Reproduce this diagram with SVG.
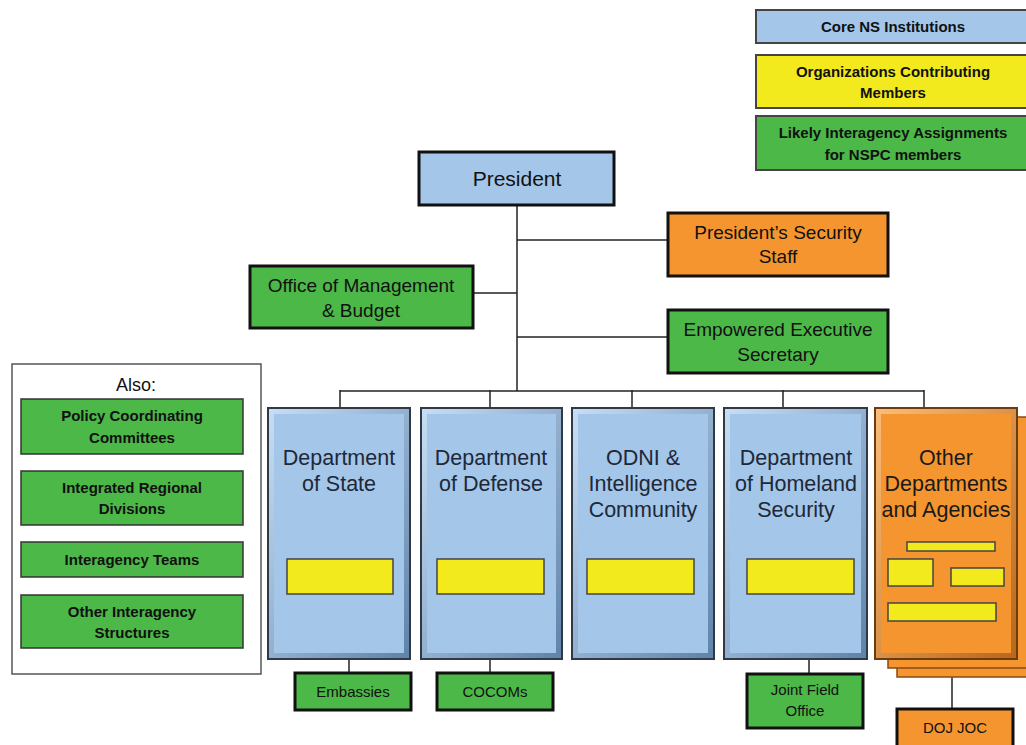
<svg xmlns="http://www.w3.org/2000/svg" width="1026" height="745" viewBox="0 0 1026 745">
<style>
text{font-family:"Liberation Sans",Arial,sans-serif;text-anchor:middle;fill:#111}
.b{font-weight:bold;font-size:15px}
.m{font-size:19px}
.d{font-size:21.5px;fill:#1e2838}
.s{font-size:15px}
.thick{stroke:#111;stroke-width:3}
.leg{stroke:#444;stroke-width:2}
.blue{fill:#a3c6e9}
.green{fill:#4cb848}
.orange{fill:#f4952f}
.yel{fill:#f2ea1c;stroke:#444;stroke-width:1.5}
.conn line{stroke:#222;stroke-width:1.5}
</style>
<defs>
<linearGradient id="bevB" x1="0" y1="0" x2="1" y2="1"><stop offset="0" stop-color="#c9def3"/><stop offset="1" stop-color="#5f82aa"/></linearGradient>
<linearGradient id="bevO" x1="0" y1="0" x2="1" y2="1"><stop offset="0" stop-color="#f9be7a"/><stop offset="1" stop-color="#b8661a"/></linearGradient>
</defs>

<g id="legend">
<g id="legend-core"><rect x="756" y="10" width="280" height="33" class="blue leg"/><text class="b" x="893" y="32">Core NS Institutions</text></g>
<g id="legend-org"><rect x="756" y="55" width="280" height="53" fill="#f2ea1c" class="leg"/><text class="b" x="893" y="77">Organizations Contributing</text><text class="b" x="893" y="98">Members</text></g>
<g id="legend-likely"><rect x="756" y="116" width="280" height="54" class="green leg"/><text class="b" x="893" y="138">Likely Interagency Assignments</text><text class="b" x="893" y="160">for NSPC members</text></g>
</g>

<g class="conn" id="connectors">
<line x1="517" y1="205" x2="517" y2="391"/>
<line x1="517" y1="240" x2="668" y2="240"/>
<line x1="473" y1="293" x2="517" y2="293"/>
<line x1="517" y1="337" x2="668" y2="337"/>
<line x1="340" y1="391" x2="924" y2="391"/>
<line x1="340" y1="390" x2="340" y2="408"/>
<line x1="490" y1="390" x2="490" y2="408"/>
<line x1="632" y1="390" x2="632" y2="408"/>
<line x1="783" y1="390" x2="783" y2="408"/>
<line x1="924" y1="390" x2="924" y2="408"/>
<line x1="349" y1="659" x2="349" y2="673"/>
<line x1="490" y1="659" x2="490" y2="673"/>
<line x1="809" y1="659" x2="809" y2="674"/>
<line x1="952" y1="676" x2="952" y2="709"/>
</g>

<g id="president"><rect x="419" y="152" width="195" height="53" class="blue thick"/><text style="font-size:21px" x="517" y="186">President</text></g>
<g id="pss"><rect x="668" y="213" width="220" height="63" class="orange thick"/><text class="m" x="778" y="239">President’s Security</text><text class="m" x="778" y="263">Staff</text></g>
<g id="omb"><rect x="250" y="266" width="223" height="62" class="green thick"/><text class="m" x="361" y="292">Office of Management</text><text class="m" x="361" y="317">&amp; Budget</text></g>
<g id="ees"><rect x="668" y="310" width="220" height="63" class="green thick"/><text class="m" x="778" y="336">Empowered Executive</text><text class="m" x="778" y="361">Secretary</text></g>

<g id="also">
<rect x="12" y="364" width="249" height="310" fill="#fff" stroke="#555" stroke-width="1.5"/>
<text x="136" y="391" style="font-size:18px">Also:</text>
<g id="pcc"><rect x="21" y="399" width="222" height="55" class="green" stroke="#333" stroke-width="1.5"/><text class="b" x="132" y="421">Policy Coordinating</text><text class="b" x="132" y="443">Committees</text></g>
<g id="ird"><rect x="21" y="471" width="222" height="54" class="green" stroke="#333" stroke-width="1.5"/><text class="b" x="132" y="493">Integrated Regional</text><text class="b" x="132" y="514">Divisions</text></g>
<g id="it"><rect x="21" y="542" width="222" height="35" class="green" stroke="#333" stroke-width="1.5"/><text class="b" x="132" y="565">Interagency Teams</text></g>
<g id="ois"><rect x="21" y="595" width="222" height="53" class="green" stroke="#333" stroke-width="1.5"/><text class="b" x="132" y="617">Other Interagency</text><text class="b" x="132" y="638">Structures</text></g>
</g>

<g id="dos">
<rect x="268" y="408" width="142" height="251" fill="url(#bevB)" stroke="#2e3a48" stroke-width="2"/>
<rect x="274" y="414" width="130" height="239" class="blue"/>
<text class="d" x="339" y="465">Department</text><text class="d" x="339" y="491">of State</text>
<rect x="287" y="559" width="106" height="35" class="yel"/>
</g>
<g id="dod">
<rect x="421" y="408" width="141" height="251" fill="url(#bevB)" stroke="#2e3a48" stroke-width="2"/>
<rect x="427" y="414" width="129" height="239" class="blue"/>
<text class="d" x="491" y="465">Department</text><text class="d" x="491" y="491">of Defense</text>
<rect x="437" y="559" width="107" height="35" class="yel"/>
</g>
<g id="odni">
<rect x="572" y="408" width="142" height="251" fill="url(#bevB)" stroke="#2e3a48" stroke-width="2"/>
<rect x="578" y="414" width="130" height="239" class="blue"/>
<text class="d" x="643" y="465">ODNI &amp;</text><text class="d" x="643" y="491">Intelligence</text><text class="d" x="643" y="517">Community</text>
<rect x="587" y="559" width="107" height="35" class="yel"/>
</g>
<g id="dhs">
<rect x="724" y="408" width="143" height="251" fill="url(#bevB)" stroke="#2e3a48" stroke-width="2"/>
<rect x="730" y="414" width="131" height="239" class="blue"/>
<text class="d" x="796" y="465">Department</text><text class="d" x="796" y="491">of Homeland</text><text class="d" x="796" y="517">Security</text>
<rect x="747" y="559" width="107" height="35" class="yel"/>
</g>
<g id="other">
<rect x="897" y="426" width="142" height="251" class="orange" stroke="#8a4a10" stroke-width="1.5"/>
<rect x="888" y="417" width="142" height="251" class="orange" stroke="#8a4a10" stroke-width="1.5"/>
<rect x="875" y="408" width="142" height="251" fill="url(#bevO)" stroke="#6e3c0c" stroke-width="2"/>
<rect x="881" y="414" width="130" height="239" class="orange"/>
<text class="d" x="946" y="465" style="fill:#1a1a1a">Other</text><text class="d" x="946" y="491" style="fill:#1a1a1a">Departments</text><text class="d" x="946" y="517" style="fill:#1a1a1a">and Agencies</text>
<rect x="907" y="542" width="88" height="9" class="yel"/>
<rect x="888" y="559" width="45" height="27" class="yel"/>
<rect x="951" y="568" width="53" height="18" class="yel"/>
<rect x="888" y="603" width="108" height="18" class="yel"/>
</g>

<g id="embassies"><rect x="295" y="673" width="116" height="37" class="green thick"/><text class="s" x="353" y="697">Embassies</text></g>
<g id="cocoms"><rect x="437" y="673" width="116" height="37" class="green thick"/><text class="s" x="495" y="697">COCOMs</text></g>
<g id="jfo"><rect x="747" y="674" width="116" height="54" class="green thick"/><text class="s" x="805" y="695">Joint Field</text><text class="s" x="805" y="716">Office</text></g>
<g id="dojjoc"><rect x="897" y="709" width="116" height="40" class="orange thick"/><text class="s" x="955" y="733">DOJ JOC</text></g>
</svg>
